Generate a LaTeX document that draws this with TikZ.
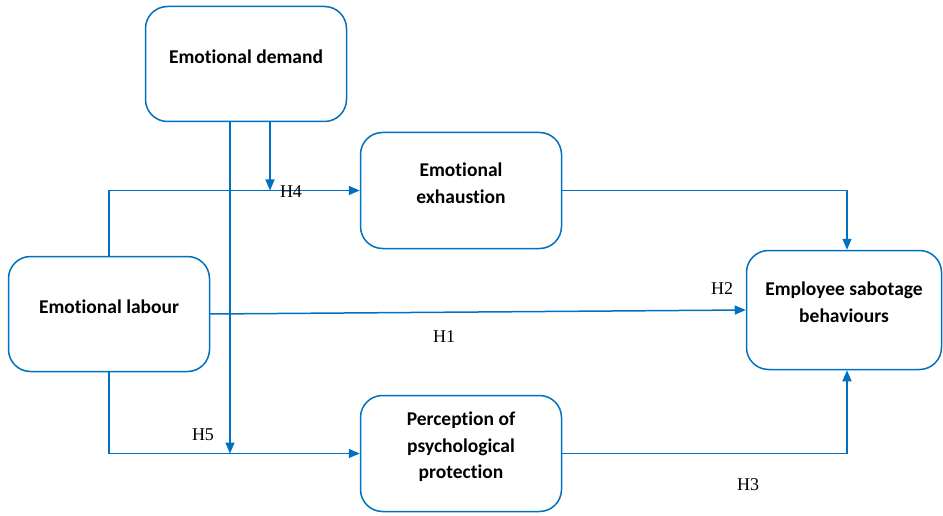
\documentclass[tikz,border=0pt]{standalone}
\usepackage{fontspec}
\setmainfont{Liberation Serif}
\newfontfamily\boxfont[Ligatures=NoCommon]{Carlito}
\usetikzlibrary{arrows.meta,calc}
\definecolor{lineblue}{RGB}{0,112,192}
\tikzset{
  box/.style={draw=lineblue, line width=1.5pt, rounded corners=22pt, inner sep=0pt},
  boxtext/.style={font=\boxfont\fontsize{19.5}{26.5}\selectfont\bfseries, align=center, inner sep=0pt},
  hlab/.style={font=\fontsize{18}{20}\selectfont, inner sep=0pt},
  conn/.style={draw=lineblue, line width=1.5pt, -{Triangle[length=11pt,width=9pt]}},
  plain/.style={draw=lineblue, line width=1.5pt}
}
\begin{document}
\begin{tikzpicture}[x=1pt,y=-1pt]
\useasboundingbox (0,0) rectangle (943,516);
% boxes
\node[box, minimum width=201pt, minimum height=115pt] (ed) at (246,64) {};
\node[box, minimum width=201pt, minimum height=116pt] (ee) at (461,190.5) {};
\node[box, minimum width=201pt, minimum height=115pt] (el) at (109,314) {};
\node[box, minimum width=195pt, minimum height=119pt] (esb) at (844,310) {};
\node[box, minimum width=201pt, minimum height=116pt] (pp) at (461,453.5) {};
% box texts
\node[boxtext] (edt) at (246,57) {Emotional demand};
\node[boxtext] (eet) at (461,183) {Emotional\\exhaustion};
\node[boxtext] (elt) at (109,307) {Emotional labour};
\node[boxtext] (esbt) at (844,302) {Employee sabotage\\behaviours};
\node[boxtext] (ppt) at (461,447) {Perception of\\psychological\\protection};
% connectors
\draw[conn] (el.north) |- (ee.west);
\draw[conn] (el.south) |- (pp.west);
\draw[conn] (el.east) -- (esb.west);
\draw[conn] (ee.east) -| ([xshift=3pt]esb.north);
\draw[conn] (pp.east) -| ([xshift=3pt]esb.south);
\draw[conn] ([xshift=24pt]ed.south) -- ([xshift=24pt]ed.south |- ee.west);
\draw[conn] ([xshift=-16pt]ed.south) -- ([xshift=-16pt]ed.south |- pp.west);
% labels
\node[hlab] (h4) at (291,192) {H4};
\node[hlab] (h2) at (722,289) {H2};
\node[hlab] (h1) at (444,337) {H1};
\node[hlab] (h5) at (203,435) {H5};
\node[hlab] (h3) at (748,485) {H3};
\end{tikzpicture}
\end{document}
